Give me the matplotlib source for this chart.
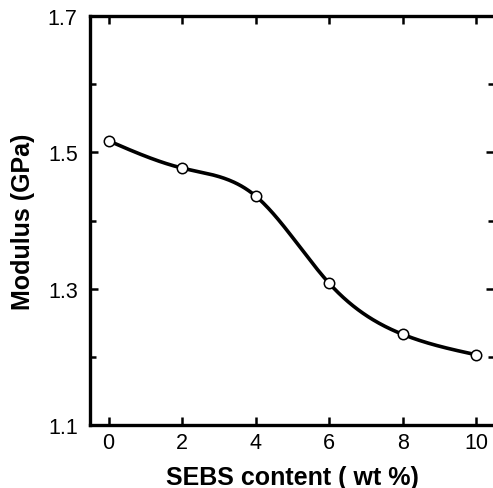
import numpy as np
import matplotlib
matplotlib.use("Agg")
import matplotlib.pyplot as plt

# SEBS loading (wt %) and measured tensile modulus (GPa)
sebs_content = [0, 2, 4, 6, 8, 10]
modulus = [1.517, 1.477, 1.436, 1.308, 1.233, 1.203]

x_ticks = [0, 2, 4, 6, 8, 10]
y_ticks = [1.1, 1.3, 1.5, 1.7]
y_minor = [1.2, 1.4, 1.6]


def natural_spline(x, y, n=300):
    """Natural cubic spline through (x, y), sampled at n points."""
    x = np.asarray(x, float)
    y = np.asarray(y, float)
    k = len(x)
    h = np.diff(x)
    a = np.zeros((k, k))
    b = np.zeros(k)
    a[0, 0] = a[-1, -1] = 1.0
    for i in range(1, k - 1):
        a[i, i - 1] = h[i - 1]
        a[i, i] = 2 * (h[i - 1] + h[i])
        a[i, i + 1] = h[i]
        b[i] = 6 * ((y[i + 1] - y[i]) / h[i] - (y[i] - y[i - 1]) / h[i - 1])
    m = np.linalg.solve(a, b)
    xs = np.linspace(x[0], x[-1], n)
    idx = np.clip(np.searchsorted(x, xs) - 1, 0, k - 2)
    t0 = x[idx + 1] - xs
    t1 = xs - x[idx]
    hi = h[idx]
    ys = (m[idx] * t0 ** 3 + m[idx + 1] * t1 ** 3) / (6 * hi) \
        + (y[idx] / hi - m[idx] * hi / 6) * t0 \
        + (y[idx + 1] / hi - m[idx + 1] * hi / 6) * t1
    return xs, ys


plt.rcParams["font.family"] = ["Liberation Sans", "DejaVu Sans"]

fig = plt.figure(figsize=(4.93, 4.89), dpi=100)
ax = fig.add_axes([0.183, 0.129, 0.82, 0.836])

xs, ys = natural_spline(sebs_content, modulus)
ax.plot(xs, ys, color="black", linewidth=2.6, zorder=2)
ax.plot(sebs_content, modulus, linestyle="none", marker="o", markersize=7.5,
        markerfacecolor="white", markeredgecolor="black", markeredgewidth=1.1,
        zorder=3)

ax.set_xlim(-0.5, 10.5)
ax.set_ylim(1.1, 1.7)
ax.set_xticks(x_ticks)
ax.set_yticks(y_ticks)
ax.set_yticks(y_minor, minor=True)
ax.set_yticklabels([f"{v:.1f}" for v in y_ticks])

for s in ax.spines.values():
    s.set_linewidth(2.4)

ax.tick_params(axis="both", which="both", direction="in", top=True, right=True,
               labelsize=15.5, width=1.8)
ax.tick_params(axis="both", which="major", length=6)
ax.tick_params(axis="both", which="minor", length=4)
ax.tick_params(axis="x", pad=5)
ax.tick_params(axis="y", pad=9)

ax.set_xlabel("SEBS content ( wt %)", fontsize=18, fontweight="bold", labelpad=9)
ax.set_ylabel("Modulus (GPa)", fontsize=18, fontweight="bold", labelpad=9)

fig.savefig("out.png", dpi=100)
